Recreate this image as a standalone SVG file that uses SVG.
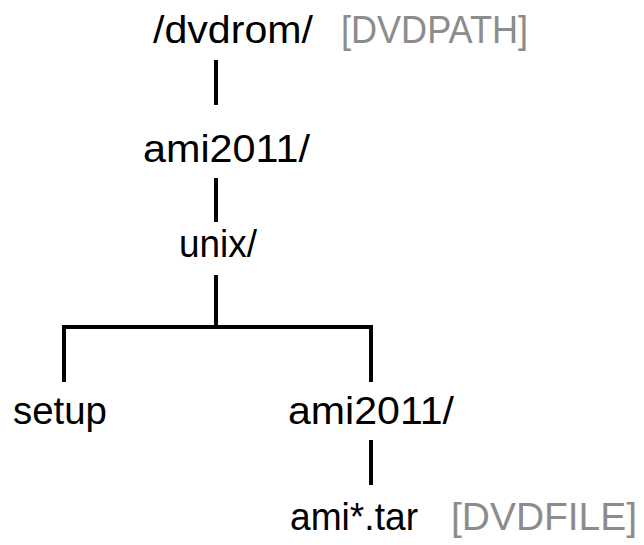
<svg xmlns="http://www.w3.org/2000/svg" width="644" height="545" viewBox="0 0 644 545">
<style>
.t{font-family:"Liberation Sans",Arial,sans-serif;font-size:38px;fill:#000}
.g{fill:#8c8c8c}
.c{stroke:#000;stroke-width:4;fill:none}
</style>
<rect width="644" height="545" fill="#fff"/>
<g id="connectors">
<line class="c" x1="216" y1="60" x2="216" y2="105"/>
<line class="c" x1="216" y1="178" x2="216" y2="222"/>
<path class="c" d="M216 275 V327 M64 382 V327 H371 V382"/>
<line class="c" x1="371" y1="440" x2="371" y2="485"/>
</g>
<g id="dvdrom"><text class="t" x="153" y="43" textLength="160" lengthAdjust="spacingAndGlyphs">/dvdrom/</text><text class="t g" x="341" y="43" textLength="187" lengthAdjust="spacingAndGlyphs">[DVDPATH]</text></g>
<g id="ami2011"><text class="t" x="143" y="162" textLength="167" lengthAdjust="spacingAndGlyphs">ami2011/</text></g>
<g id="unix"><text class="t" x="179" y="257" textLength="78" lengthAdjust="spacingAndGlyphs">unix/</text></g>
<g id="setup"><text class="t" x="13" y="424" textLength="94" lengthAdjust="spacingAndGlyphs">setup</text></g>
<g id="ami2011b"><text class="t" x="288" y="424" textLength="166" lengthAdjust="spacingAndGlyphs">ami2011/</text></g>
<g id="amitar"><text class="t" x="290" y="530" textLength="128" lengthAdjust="spacingAndGlyphs">ami*.tar</text><text class="t g" x="451" y="530" textLength="186" lengthAdjust="spacingAndGlyphs">[DVDFILE]</text></g>
</svg>
